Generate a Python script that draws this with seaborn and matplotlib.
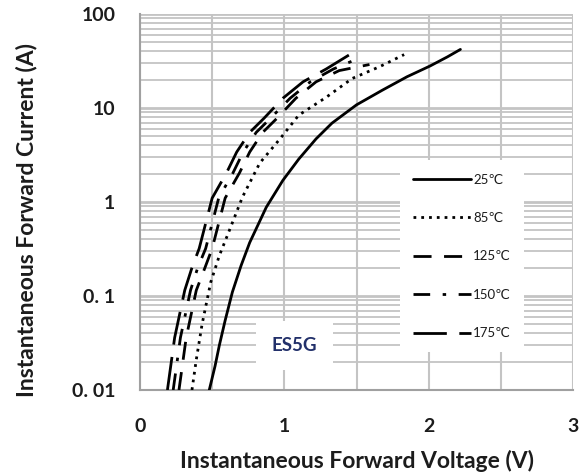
import numpy as np
import pandas as pd
import matplotlib
matplotlib.use("Agg")
import matplotlib.pyplot as plt
import seaborn as sns
from matplotlib.ticker import FixedLocator, NullFormatter, LogLocator

# ---- data ----
v_25 = [0.48, 0.52, 0.55, 0.59, 0.64, 0.70, 0.76, 0.875, 0.99, 1.10, 1.22, 1.33, 1.50, 1.68, 1.85, 2.01, 2.13, 2.22]
i_25 = [0.01, 0.018, 0.03, 0.055, 0.11, 0.21, 0.37, 0.88, 1.7, 2.86, 4.7, 6.9, 10.8, 15.5, 21.5, 28, 35, 42]

v_85 = [0.36, 0.39, 0.43, 0.49, 0.55, 0.60, 0.71, 0.83, 0.97, 1.10, 1.29, 1.47, 1.66, 1.83]
i_85 = [0.01, 0.021, 0.05, 0.14, 0.27, 0.42, 1.13, 2.6, 4.7, 8.4, 13, 20.6, 27.5, 37]

v_125 = [0.27, 0.32, 0.39, 0.45, 0.50, 0.59, 0.69, 0.76, 0.85, 0.95, 1.08, 1.22, 1.38, 1.59]
i_125 = [0.01, 0.036, 0.115, 0.2, 0.32, 1.1, 2.05, 3.4, 5.5, 7.8, 12.7, 19, 25, 29]

v_150 = [0.23, 0.28, 0.35, 0.40, 0.455, 0.545, 0.645, 0.715, 0.805, 0.905, 1.04, 1.18, 1.34, 1.52]
i_150 = [0.01, 0.036, 0.115, 0.2, 0.32, 1.1, 2.05, 3.4, 5.5, 7.8, 12.7, 19, 26, 34]

v_175 = [0.19, 0.24, 0.31, 0.36, 0.41, 0.50, 0.60, 0.67, 0.76, 0.86, 0.99, 1.13, 1.29, 1.50]
i_175 = [0.01, 0.036, 0.115, 0.2, 0.32, 1.1, 2.05, 3.4, 5.5, 7.8, 12.7, 19, 26, 41]

series_labels = ["25℃", "85℃", "125℃", "150℃", "175℃"]
series_v = [v_25, v_85, v_125, v_150, v_175]
series_i = [i_25, i_85, i_125, i_150, i_175]

x_ticks = [0, 1, 2, 3]
x_ticklabels = ["0", "1", "2", "3"]
y_ticks = [0.01, 0.1, 1, 10, 100]
y_ticklabels = ["0. 01", "0. 1", "1", "10", "100"]
device_name = "ES5G"

# ---- styling ----
sns.set_style("white")
plt.rcParams["font.family"] = ["Lato", "DejaVu Sans"]
plt.rcParams["lines.scale_dashes"] = False

line_styles = {
    "25℃": "-",
    "85℃": (0, (2.0, 3.6)),
    "125℃": (0, (13, 9)),
    "150℃": (0, (12, 9, 2.5, 9)),
    "175℃": (0, (24, 9)),
}

W, H = 588, 473
fig = plt.figure(figsize=(W / 100, H / 100), dpi=100)
L, R, T, B = 140, 573, 14, 390
ax = fig.add_axes([L / W, (H - B) / H, (R - L) / W, (B - T) / H])

frames = []
for lab, v, i in zip(series_labels, series_v, series_i):
    frames.append(pd.DataFrame({"V": v, "I": i, "T": lab}))
df = pd.concat(frames, ignore_index=True)

for lab in series_labels:
    sub = df[df["T"] == lab]
    sns.lineplot(data=sub, x="V", y="I", ax=ax, color="black", linewidth=2.0,
                 linestyle=line_styles[lab], sort=False, estimator=None,
                 label=lab, zorder=3)

ax.set_yscale("log")
ax.set_xlim(0, 3)
ax.set_ylim(0.01, 100)

grid_col = "#c4c4c4"
ax.set_xticks(x_ticks)
ax.set_xticklabels(x_ticklabels)
ax.xaxis.set_minor_locator(FixedLocator([0.5, 1.5, 2.5]))
ax.set_yticks(y_ticks)
ax.set_yticklabels(y_ticklabels)
ax.yaxis.set_minor_locator(LogLocator(base=10, subs=np.arange(2, 10)))
ax.yaxis.set_minor_formatter(NullFormatter())

ax.grid(True, which="major", axis="y", color=grid_col, linewidth=2.0)
ax.grid(True, which="minor", axis="y", color=grid_col, linewidth=1.3)
ax.grid(True, which="both", axis="x", color=grid_col, linewidth=1.5)
ax.set_axisbelow(True)

ax.tick_params(axis="x", which="both", length=0, pad=20, labelsize=14,
               labelcolor="#1c1c1c")
ax.tick_params(axis="y", which="major", length=5.8, width=1.3, color="#9a9a9a",
               direction="out", pad=12, labelsize=14, labelcolor="#1c1c1c")
ax.tick_params(axis="y", which="minor", length=0)
for lbl in ax.get_xticklabels() + ax.get_yticklabels():
    lbl.set_fontweight("bold")

for s in ["left", "bottom"]:
    ax.spines[s].set_color("#a0a0a0")
    ax.spines[s].set_linewidth(1.5)
for s in ["top", "right"]:
    ax.spines[s].set_visible(False)

ax.set_xlabel("Instantaneous Forward Voltage (V)", fontsize=16.5, fontweight="bold",
              color="#1c1c1c")
ax.xaxis.set_label_coords(0.5, -0.16)
ax.set_ylabel("Instantaneous Forward Current (A)", fontsize=16.5, fontweight="bold",
              color="#1c1c1c")
ax.yaxis.set_label_coords(-0.238, 0.452)

ax.text(1.07, 0.030, device_name, ha="center", va="center", fontsize=13.5,
        fontweight="bold", color="#22306a", zorder=4,
        bbox=dict(boxstyle="square,pad=0.85", facecolor="white", edgecolor="none"))

handles, labels = ax.get_legend_handles_labels()
leg = ax.legend(handles, labels, loc="lower left",
                bbox_to_anchor=(0.60, 0.10), frameon=True, fontsize=9.5,
                handlelength=4.4, handletextpad=0.15, labelspacing=2.0,
                borderpad=1.0, borderaxespad=0.0, fancybox=False)
leg.get_frame().set_facecolor("white")
leg.get_frame().set_edgecolor("none")
leg.get_frame().set_alpha(1.0)
leg.set_zorder(5)
for t in leg.get_texts():
    t.set_color("#1c1c1c")

fig.savefig("out.png", dpi=100, facecolor="white")
